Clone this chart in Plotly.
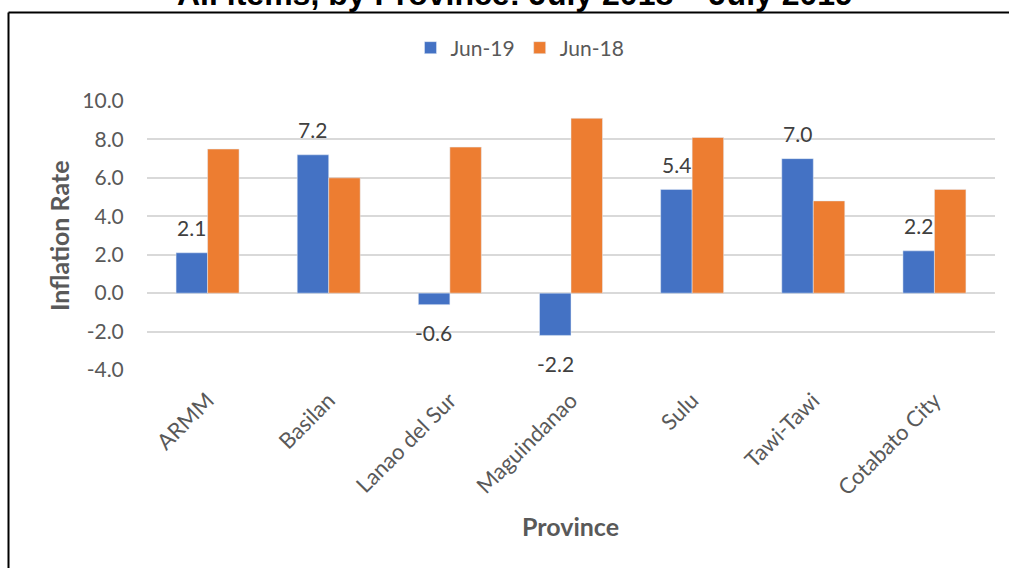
import plotly.graph_objects as go

# Data
provinces = ["ARMM", "Basilan", "Lanao del Sur", "Maguindanao", "Sulu", "Tawi-Tawi", "Cotabato City"]
jun19 = [2.1, 7.2, -0.6, -2.2, 5.4, 7.0, 2.2]
jun18 = [7.5, 6.0, 7.6, 9.1, 8.1, 4.8, 5.4]
y_ticks = [-4, -2, 0, 2, 4, 6, 8, 10]
y_tick_text = ["-4.0", "-2.0", "0.0", "2.0", "4.0", "6.0", "8.0", "10.0"]

W, H = 1009, 568
ML, MR, MT, MB = 147, 14, 101, 198
PW, PH = W - ML - MR, H - MT - MB


def px(x):
    return (x - ML) / PW


def py(y):
    return (H - MB - y) / PH


FONT = "Lato"
GRID = "#d9d9d9"

fig = go.Figure()
fig.add_trace(go.Bar(name="Jun-19", x=provinces, y=jun19, marker_color="#4472C4"))
fig.add_trace(go.Bar(name="Jun-18", x=provinces, y=jun18, marker_color="#ED7D31"))

annotations = []
# Value labels on the Jun-19 bars
for p, v in zip(provinces, jun19):
    annotations.append(dict(
        x=p, y=v, xref="x", yref="y", text=f"{v:.1f}", showarrow=False,
        xshift=-16, yshift=25 if v >= 0 else -28, yanchor="middle",
        font=dict(family=FONT, size=21, color="#404040"),
    ))

# Chart title (partly above the page edge)
annotations.append(dict(
    x=px(515), y=py(14.5), xref="paper", yref="paper", xanchor="center", yanchor="bottom",
    text="<b>All items, by Province: July 2018 \u2013 July 2019</b>", showarrow=False,
    font=dict(family="Liberation Sans", size=32, color="#000000"),
))
# Axis titles
annotations.append(dict(
    x=px(59), y=py(236), xref="paper", yref="paper", xanchor="center", yanchor="middle",
    text="<b>Inflation Rate</b>", textangle=-90, showarrow=False,
    font=dict(family=FONT, size=25, color="#595959"),
))
annotations.append(dict(
    x=px(570), y=py(526), xref="paper", yref="paper", xanchor="center", yanchor="middle",
    text="<b>Province</b>", showarrow=False,
    font=dict(family=FONT, size=25, color="#595959"),
))

# Frame lines (left and top)
shapes = [
    dict(type="line", xref="paper", yref="paper", x0=px(8.5), x1=px(8.5), y0=py(12.5), y1=py(570),
         line=dict(color="#000000", width=2)),
    dict(type="line", xref="paper", yref="paper", x0=px(8.5), x1=px(1012), y0=py(12.5), y1=py(12.5),
         line=dict(color="#000000", width=2)),
]

fig.update_layout(
    width=W, height=H,
    margin=dict(l=ML, r=MR, t=MT, b=MB, autoexpand=False),
    paper_bgcolor="white", plot_bgcolor="white",
    barmode="group", bargap=0.48, bargroupgap=0,
    font=dict(family=FONT, size=20, color="#595959"),
    legend=dict(
        orientation="h", x=px(520), y=py(48), xanchor="center", yanchor="middle",
        font=dict(family=FONT, size=21, color="#595959"), itemwidth=30,
        bgcolor="rgba(0,0,0,0)",
    ),
    annotations=annotations,
    shapes=shapes,
    xaxis=dict(
        type="category", tickangle=-45, showgrid=False, showline=False, zeroline=False,
        ticks="outside", ticklen=8, tickcolor="rgba(0,0,0,0)",
        tickfont=dict(family=FONT, size=22, color="#595959"),
    ),
    yaxis=dict(
        range=[-4, 10], tickvals=y_ticks, ticktext=y_tick_text,
        showgrid=True, gridcolor=GRID, gridwidth=1.5,
        zeroline=True, zerolinecolor=GRID, zerolinewidth=1.5,
        showline=False, ticks="outside", ticklen=18, tickcolor="rgba(0,0,0,0)",
        tickfont=dict(family=FONT, size=21, color="#595959"),
    ),
)

fig.write_html("out.html")
